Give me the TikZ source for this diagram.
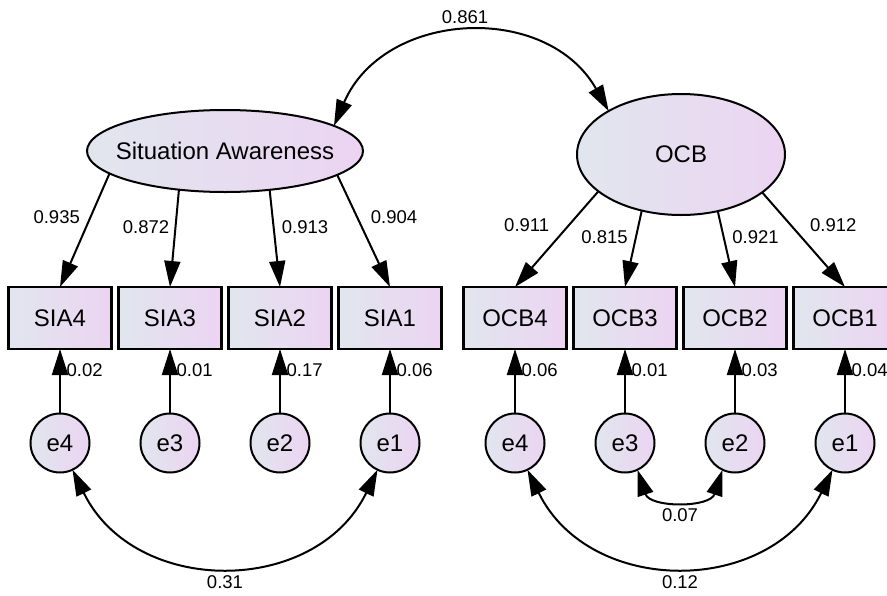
\documentclass[tikz,border=0pt]{standalone}
\usepackage{fontspec}
\setmainfont{Liberation Sans}
\usetikzlibrary{arrows.meta,shapes.geometric}
\definecolor{gA}{RGB}{225,230,238}
\definecolor{gB}{RGB}{236,212,242}
\tikzset{
  every node/.style={inner sep=0pt, outer sep=0pt},
  shade/.style={left color=gA, right color=gB},
  latent/.style={ellipse, draw, line width=2pt, shade, font=\fontsize{24}{28}\selectfont},
  obs/.style={rectangle, draw, line width=2.3pt, shade, minimum width=103pt, minimum height=62pt, font=\fontsize{24}{28}\selectfont},
  err/.style={circle, draw, line width=2pt, shade, minimum size=59pt, font=\fontsize{24}{28}\selectfont},
  lbl/.style={font=\fontsize{18.5}{22}\selectfont},
  conn/.style={line width=2pt, -{Triangle[length=26pt,width=16pt]}},
  cov/.style={line width=2pt, {Triangle[length=26pt,width=16pt]}-{Triangle[length=26pt,width=16pt]}},
}
\begin{document}
\begin{tikzpicture}[x=1pt,y=-1pt]
\useasboundingbox (0,0) rectangle (887,595);
% latent variables
\node[latent, minimum width=276pt, minimum height=82pt] (SA) at (225,151) {\makebox[0pt]{Situation Awareness}};
\node[latent, minimum width=208pt, minimum height=121pt] (OCB) at (681,154.5) {\makebox[0pt]{OCB}};
% observed
\node[obs] (SIA4) at (60,318) {SIA4};
\node[obs] (SIA3) at (170,318) {SIA3};
\node[obs] (SIA2) at (280,318) {SIA2};
\node[obs] (SIA1) at (390,318) {SIA1};
\node[obs] (OCB4) at (515,318) {OCB4};
\node[obs] (OCB3) at (625,318) {OCB3};
\node[obs] (OCB2) at (735,318) {OCB2};
\node[obs] (OCB1) at (845,318) {OCB1};
% errors
\node[err] (se4) at (60,443) {e4};
\node[err] (se3) at (170,443) {e3};
\node[err] (se2) at (280,443) {e2};
\node[err] (se1) at (390,443) {e1};
\node[err] (oe4) at (515,443) {e4};
\node[err] (oe3) at (625,443) {e3};
\node[err] (oe2) at (735,443) {e2};
\node[err] (oe1) at (845,443) {e1};
% loading labels
\node[lbl] (l1) at (56.7,216.7) {0.935};
\node[lbl] (l2) at (146,227.5) {0.872};
\node[lbl] (l3) at (305,227.5) {0.913};
\node[lbl] (l4) at (394,216.7) {0.904};
\node[lbl] (l5) at (526.7,225) {0.911};
\node[lbl] (l6) at (604.5,237.5) {0.815};
\node[lbl] (l7) at (755.5,237.5) {0.921};
\node[lbl] (l8) at (833.3,225) {0.912};
% error labels
\node[lbl, anchor=west] (r1) at (66.7,370) {0.02};
\node[lbl, anchor=west] (r2) at (176.7,370) {0.01};
\node[lbl, anchor=west] (r3) at (286.7,370) {0.17};
\node[lbl, anchor=west] (r4) at (396.7,370) {0.06};
\node[lbl, anchor=west] (r5) at (521.7,370) {0.06};
\node[lbl, anchor=west] (r6) at (631.7,370) {0.01};
\node[lbl, anchor=west] (r7) at (741.7,370) {0.03};
\node[lbl, anchor=west] (r8) at (851.7,370) {0.04};
% covariance labels
\node[lbl] (c1) at (465,17) {0.861};
\node[lbl] (c2) at (225,582) {0.31};
\node[lbl] (c3) at (680,582) {0.12};
\node[lbl] (c4) at (680,515) {0.07};
% loadings
\draw[conn] (SA.191.8) -- (SIA4.north);
\draw[conn] (SA.220.8) -- (SIA3.north);
\draw[conn] (SA.319.2) -- (SIA2.north);
\draw[conn] (SA.348.2) -- (SIA1.north);
\draw[conn] (OCB.204.1) -- (OCB4.north);
\draw[conn] (OCB.235.2) -- (OCB3.north);
\draw[conn] (OCB.303.2) -- (OCB2.north);
\draw[conn] (OCB.335.4) -- (OCB1.north);
% error paths
\foreach \e/\b in {se4/SIA4,se3/SIA3,se2/SIA2,se1/SIA1,oe4/OCB4,oe3/OCB3,oe2/OCB2,oe1/OCB1}
  \draw[conn] (\e.north) -- (\b.south);
% covariances
\draw[cov] (SA.13) .. controls (384,10) and (546.6,1.6) .. (OCB.149);
\draw[cov] (se4.295) .. controls (134.5,596.8) and (315.5,596.8) .. (se1.245);
\draw[cov] (oe4.295) .. controls (589.5,596.8) and (770.5,596.8) .. (oe1.245);
\draw[cov] (oe3.295) .. controls (650,508) and (710,508) .. (oe2.245);
\end{tikzpicture}
\end{document}
